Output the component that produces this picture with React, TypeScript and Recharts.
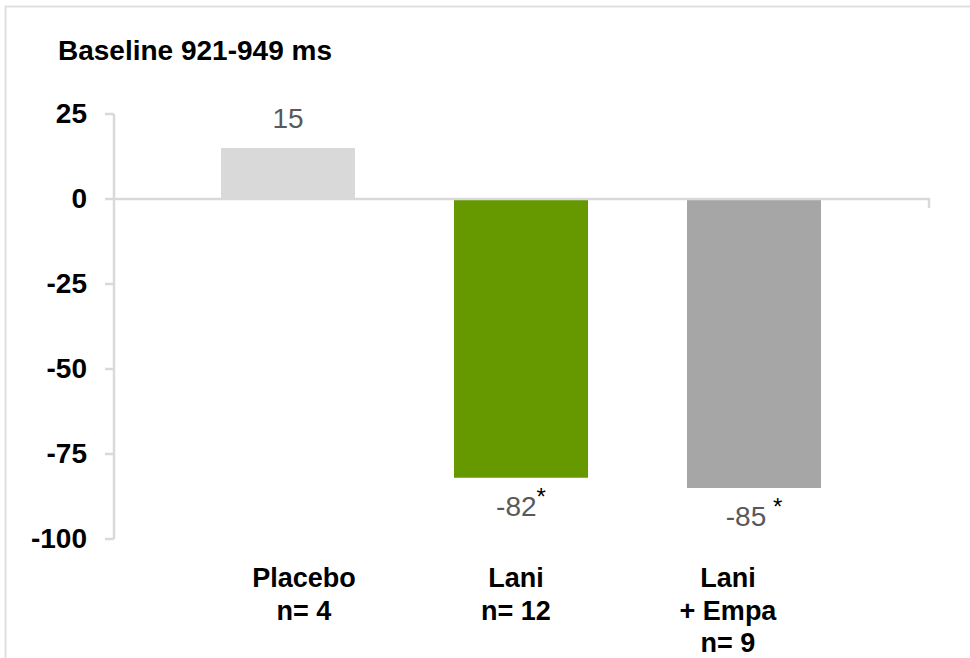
import React from "react";
import { BarChart, Bar, XAxis, YAxis, Cell, LabelList, ReferenceLine } from "recharts";

const categories = ["Placebo", "Lani", "Lani + Empa"];
const values = [15, -82, -85];
const categoryLines = [["Placebo", "n= 4"], ["Lani", "n= 12"], ["Lani", "+ Empa", "n= 9"]];
const valueMarks = ["", "*", " *"];
const barColors = ["#d9d9d9", "#669900", "#a6a6a6"];
const yTicks = [25, 0, -25, -50, -75, -100];
const yDomain = [-100, 25];
const title = "Baseline 921-949 ms";

const data = categories.map((c, i) => ({ category: c, value: values[i] }));

const FONT = '"Liberation Sans", Arial, sans-serif';
const AXIS = "#d9d9d9";

const YTick = (props: any) => {
  const { x, y, payload } = props;
  return (
    <text x={x} y={y} dy={9} textAnchor="end" fontFamily={FONT} fontWeight="bold" fontSize={28} fill="#000">
      {payload.value}
    </text>
  );
};

const CatTick = (props: any) => {
  const { x, y, index } = props;
  const lines = categoryLines[index] || [];
  return (
    <text x={x} y={y} textAnchor="middle" fontFamily={FONT} fontWeight="bold" fontSize={27} fill="#000">
      {lines.map((l, i) => (
        <tspan key={i} x={x} y={y + 18 + i * 32.5}>
          {l}
        </tspan>
      ))}
    </text>
  );
};

const ValueLabel = (props: any) => {
  const { x, y, width, height, value, index } = props;
  const top = Math.min(y, y + height);
  const bottom = Math.max(y, y + height);
  const cx = x + width / 2;
  const ty = value >= 0 ? top - 20 : bottom + 38;
  const mark = valueMarks[index];
  return (
    <text x={cx} y={ty} textAnchor="middle" fontFamily={FONT} fontSize={28} fill="#595959">
      <tspan>{value}</tspan>
      {mark ? (
        <tspan fill="#000" fontSize={24} dy={-11}>
          {mark}
        </tspan>
      ) : null}
    </text>
  );
};

const ZeroLine = (props: any) => {
  const { x1, x2, y1 } = props;
  return (
    <path
      d={`M ${x1} ${y1} H ${x2} V ${y1 + 9}`}
      stroke={AXIS}
      strokeWidth={2.5}
      fill="none"
    />
  );
};

export default function App() {
  return (
    <div style={{ position: "absolute", left: 0, top: 0, width: 970, height: 658, background: "#fff", overflow: "hidden" }}>
      <BarChart
        width={970}
        height={658}
        data={data}
        margin={{ top: 114, right: 41, bottom: 0, left: 0 }}
      >
        <XAxis dataKey="category" hide padding={{ left: 57, right: 59 }} />
        <XAxis
          xAxisId="labels"
          dataKey="category"
          height={119}
          padding={{ left: 84, right: 95 }}
          axisLine={false}
          tickLine={false}
          tickSize={0}
          tickMargin={0}
          interval={0}
          tick={<CatTick />}
        />
        <YAxis
          width={114}
          domain={yDomain}
          ticks={yTicks}
          type="number"
          allowDataOverflow
          axisLine={{ stroke: AXIS, strokeWidth: 2.5 }}
          tickLine={{ stroke: AXIS, strokeWidth: 2.5 }}
          tickSize={9}
          tickMargin={18}
          tick={<YTick />}
          interval={0}
        />
        <ReferenceLine y={0} shape={<ZeroLine />} />
        <Bar dataKey="value" barSize={134} isAnimationActive={false}>
          {data.map((d, i) => (
            <Cell key={i} fill={barColors[i]} />
          ))}
          <LabelList dataKey="value" content={<ValueLabel />} />
        </Bar>
      </BarChart>
      <svg width={970} height={658} style={{ position: "absolute", left: 0, top: 0, pointerEvents: "none" }}>
        <path d="M 5.5 658 V 6.5 H 970" stroke="#e0e0e0" strokeWidth={2} fill="none" />
        <text x={58} y={60} fontFamily={FONT} fontWeight="bold" fontSize={28} fill="#000">
          {title}
        </text>
      </svg>
    </div>
  );
}
